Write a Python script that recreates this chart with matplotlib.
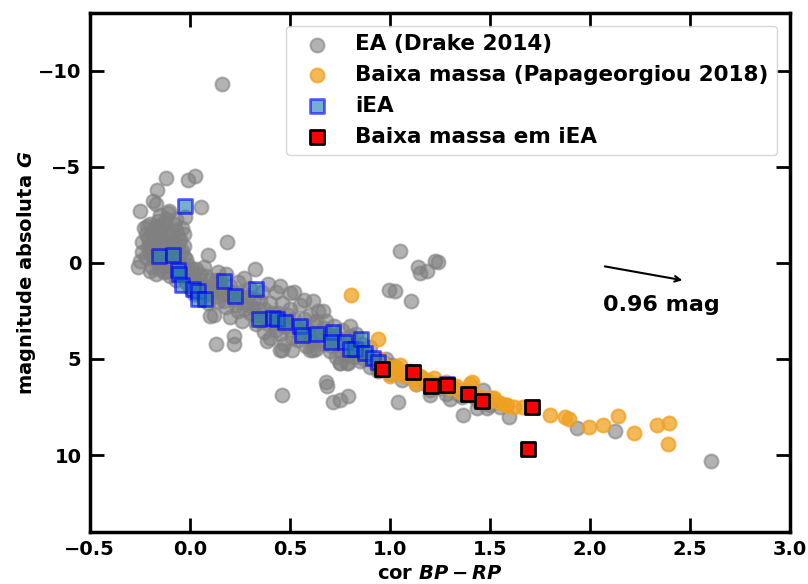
import matplotlib
matplotlib.use('Agg')
import matplotlib.pyplot as plt

# EA (Drake 2014): cor BP-RP, magnitude absoluta G
ea_x = [0.16, -0.25, -0.185, -0.17, -0.165, -0.12, -0.01, 0.025, -0.105, 0.055, -0.025, -0.04, -0.215, -0.24, 0.185, 0.09, 0.325,
        -0.22, -0.2, -0.18, -0.16, -0.14, -0.12, -0.1, -0.08, -0.06, -0.2, -0.18, -0.16, -0.14, -0.12, -0.1, -0.08, -0.06, -0.04,
        -0.22, -0.2, -0.18, -0.16, -0.14, -0.12, -0.1, -0.08, -0.06, -0.04, -0.02, -0.2, -0.17, -0.13, -0.1, -0.07, -0.04, -0.02,
        0.0, 0.02, -0.26, -0.24, -0.03, -0.25,
        -0.23, -0.21, -0.19, -0.17, -0.15, -0.13, -0.11, -0.09, -0.07, -0.05, -0.03, -0.21, -0.19, -0.17, -0.15, -0.13, -0.11,
        -0.09, -0.07, -0.05, -0.03, -0.01, -0.19, -0.15, -0.11, -0.09, -0.05, -0.03, 0.01, -0.15, -0.11, -0.07, -0.13,
        0.0, 0.02, 0.04, 0.05, 0.06, 0.08, 0.09, 0.1, 0.1, 0.03, 0.07, 0.1, 0.12,
        0.01, 0.03, 0.05, 0.07, 0.08, 0.11, 0.13, 0.13, 0.15, 0.17, 0.19, 0.21, 0.23, 0.25, 0.27, 0.29,
        0.12, 0.14, 0.15, 0.16, 0.18, 0.2, 0.2, 0.22, 0.24, 0.24, 0.26, 0.26, 0.28, 0.3, 0.3, 0.13, 0.22, 0.22, 0.18, 0.14, 0.27,
        0.31, 0.33, 0.35, 0.35, 0.37, 0.39, 0.41, 0.43, 0.45, 0.47, 0.49, 0.51, 0.53, 0.55, 0.57, 0.59,
        0.32, 0.33, 0.34, 0.36, 0.37, 0.38, 0.4, 0.4, 0.42, 0.43, 0.44, 0.45, 0.46, 0.47, 0.48, 0.5, 0.5, 0.385, 0.46, 0.51, 0.45, 0.5, 0.39,
        0.52, 0.54, 0.55, 0.56, 0.57, 0.58, 0.6, 0.6, 0.615, 0.62, 0.63, 0.64, 0.65, 0.665, 0.67, 0.68, 0.7, 0.7, 0.615, 0.52,
        0.61, 0.63, 0.65, 0.67, 0.69, 0.71, 0.73, 0.75, 0.77, 0.79, 0.81, 0.84, 0.87, 0.89, 0.93, 0.96, 0.98, 1.01,
        0.72, 0.73, 0.74, 0.75, 0.76, 0.78, 0.79, 0.8, 0.82, 0.83, 0.85, 0.86, 0.88, 0.9, 0.9, 0.92, 0.94, 0.8,
        0.97, 1.0, 1.03, 1.06, 1.1, 1.13, 1.16, 1.2, 1.24, 1.28, 1.32, 1.36, 1.4, 1.44, 1.465, 1.485, 1.435, 1.365, 1.595, 1.55, 1.04, 1.2, 1.3,
        1.08, 1.18, 1.26, 1.34, 1.42, 1.5,
        1.05, 1.14, 1.185, 1.15, 1.225, 1.24, 1.025, 1.105, 0.995, 0.46, 0.68, 0.685, 0.715, 0.75, 0.79, 1.935, 2.125, 2.605, 0.75, 0.785, 0.45, 0.6]
ea_y = [-9.3, -2.7, -3.2, -3.05, -3.8, -4.4, -4.3, -4.5, -2.7, -2.9, -2.4, -1.8, -1.9, -0.55, -1.1, -0.4, 0.3,
        -1.5, -2.0, -1.7, -2.2, -1.9, -2.3, -1.6, -2.0, -1.4, -1.0, -1.2, -0.9, -1.3, -1.0, -1.2, -0.8, -1.0, -0.6,
        -0.3, -0.6, -0.2, 0.0, -0.4, 0.1, -0.2, 0.3, 0.0, 0.2, -0.2, 0.4, 0.6, 0.5, 0.7, 0.9, 0.7, 1.0,
        0.5, 0.8, 0.2, -1.1, -1.5, -0.1,
        -1.8, -1.3, -1.5, -1.9, -1.6, -1.1, -1.5, -1.0, -1.7, -1.2, -0.9, -0.8, -0.4, -0.7, -0.3, -0.7, -0.4,
        -0.5, -0.3, -0.5, -0.3, 0.1, 0.2, 0.3, 0.4, 0.1, 0.5, 0.4, 0.3, -2.5, -2.6, -2.3, -2.0,
        1.3, 1.6, 1.1, 0.6, 1.8, 1.3, 2.1, 0.9, 1.6, 0.3, 0.2, 2.75, 2.7,
        1.0, 1.4, 0.9, 1.6, 0.7, 1.4, 1.7, 0.9, 1.3, 2.0, 1.6, 1.5, 2.2, 1.8, 2.4, 1.8,
        1.2, 2.0, 0.9, 1.6, 2.3, 1.2, 2.8, 1.9, 1.0, 2.5, 1.5, 3.0, 2.1, 1.3, 2.6, 4.2, 4.2, 3.8, 0.6, 0.5, 0.8,
        2.3, 2.7, 2.0, 3.0, 2.4, 3.2, 2.6, 3.5, 2.9, 3.3, 2.7, 3.9, 3.3, 3.7, 2.9, 3.5,
        1.9, 3.2, 2.4, 1.5, 3.6, 2.8, 2.1, 3.9, 3.2, 1.5, 2.6, 3.7, 2.1, 4.2, 3.0, 2.4, 3.5, 4.05, 4.55, 4.55, 1.2, 1.55, 1.1,
        2.9, 4.0, 2.2, 3.4, 1.95, 4.3, 2.7, 3.8, 2.0, 3.2, 4.5, 2.5, 3.6, 2.5, 4.2, 3.0, 3.9, 4.6, 4.55, 1.5,
        4.1, 3.0, 4.0, 3.4, 3.7, 4.3, 3.8, 4.6, 4.0, 4.8, 4.3, 4.6, 5.0, 4.9, 5.3, 5.5, 5.0, 5.3,
        3.3, 4.9, 4.1, 5.2, 3.5, 4.5, 5.2, 3.8, 4.9, 3.7, 5.1, 4.2, 4.8, 4.4, 5.4, 5.0, 5.6, 3.3,
        5.2, 5.8, 5.4, 6.1, 5.6, 6.3, 6.0, 6.6, 6.3, 6.8, 6.5, 7.0, 6.7, 7.2, 6.6, 7.55, 7.55, 7.9, 8.0, 7.5, 7.25, 6.9, 7.1,
        5.9, 6.3, 6.5, 6.8, 7.0, 7.4,
        -0.6, 0.2, 0.4, 0.55, -0.1, -0.05, 1.45, 2.0, 1.4, 6.85, 6.2, 6.4, 7.25, 7.15, 6.95, 8.6, 8.75, 10.3, 5.2, 5.2, 4.55, 4.55]

# Baixa massa (Papageorgiou 2018)
bm_x = [0.805, 0.94, 0.95, 0.97, 1.0, 1.02, 1.05, 1.07, 1.1, 1.12, 1.15, 1.18, 1.2, 1.22, 1.25, 1.28, 1.3, 1.33, 1.35,
        1.38, 1.4, 1.42, 1.45, 1.48, 1.5, 1.52, 1.55, 1.58, 1.62, 1.665, 1.8, 1.875, 1.895, 1.995, 2.065, 2.14, 2.22,
        2.335, 2.395, 2.39, 1.0, 1.05, 1.13, 1.41, 1.51, 1.585]
bm_y = [1.66, 3.94, 5.0, 5.3, 5.5, 5.4, 5.6, 5.9, 5.7, 6.0, 5.9, 6.1, 6.2, 6.0, 6.4, 6.2, 6.5, 6.4, 6.7,
        6.6, 6.3, 6.9, 7.0, 7.1, 7.2, 7.05, 7.3, 7.4, 7.5, 7.5, 7.9, 8.0, 8.1, 8.55, 8.45, 7.95, 8.85,
        8.45, 8.35, 9.4, 5.9, 5.3, 6.3, 6.2, 7.05, 7.4]

# iEA
iea_x = [-0.025, -0.155, -0.085, -0.06, -0.055, -0.04, 0.015, 0.04, 0.04, 0.075, 0.17, 0.225, 0.33, 0.345, 0.415,
         0.435, 0.475, 0.55, 0.56, 0.635, 0.715, 0.705, 0.775, 0.825, 0.80, 0.855, 0.875, 0.915, 0.94, 1.285]
iea_y = [-2.95, -0.38, -0.41, 0.36, 0.57, 1.14, 1.35, 1.45, 1.87, 1.87, 0.93, 1.7, 1.35, 2.9, 2.85,
         2.9, 3.06, 3.26, 3.73, 3.68, 3.58, 4.1, 4.1, 4.5, 4.5, 3.94, 4.7, 4.97, 5.15, 6.3]

# Baixa massa em iEA
bmi_x = [0.96, 1.115, 1.205, 1.285, 1.39, 1.46, 1.71, 1.69]
bmi_y = [5.5, 5.7, 6.43, 6.37, 6.8, 7.2, 7.5, 9.7]

plt.rcParams['font.weight'] = 'bold'
plt.rcParams['axes.labelweight'] = 'bold'

fig = plt.figure(figsize=(8.08, 5.84), dpi=100)
ax = fig.add_axes([0.111, 0.089, 0.867, 0.889])

ax.scatter(ea_x, ea_y, s=100, c='gray', alpha=0.6, linewidths=1.5, label='EA (Drake 2014)')
ax.scatter(bm_x, bm_y, s=100, c='#f0a020', alpha=0.75, linewidths=1.5, label='Baixa massa (Papageorgiou 2018)')
ax.scatter(iea_x, iea_y, s=100, marker='s', facecolor='tab:blue', edgecolor='blue', alpha=0.6,
           linewidths=2, label='iEA')
ax.scatter(bmi_x, bmi_y, s=90, marker='s', facecolor='red', edgecolor='black', linewidths=2,
           label='Baixa massa em iEA')

ax.annotate('', xy=(2.475, 0.93), xytext=(2.06, 0.16),
            arrowprops=dict(arrowstyle='->', color='black', lw=1.5))
ax.text(2.355, 2.2, '0.96 mag', fontsize=16, fontweight='bold', ha='center', va='center')

ax.set_xlim(-0.5, 3.0)
ax.set_ylim(14, -13)
ax.set_xticks([-0.5, 0.0, 0.5, 1.0, 1.5, 2.0, 2.5, 3.0])
ax.set_yticks([-10, -5, 0, 5, 10])
ax.set_xlabel(r'cor $\mathbfit{BP-RP}$', fontsize=14, fontweight='bold', labelpad=3)
ax.set_ylabel(r'magnitude absoluta $\mathbfit{G}$', fontsize=14, fontweight='bold', labelpad=0)
ax.tick_params(direction='in', length=10, width=2, labelsize=14, top=True, right=True, pad=6)
for sp in ax.spines.values():
    sp.set_linewidth(2.5)

ax.legend(loc='upper right', prop={'weight': 'bold', 'size': 15.5}, borderaxespad=0.6)

fig.savefig('out.png', dpi=100)
